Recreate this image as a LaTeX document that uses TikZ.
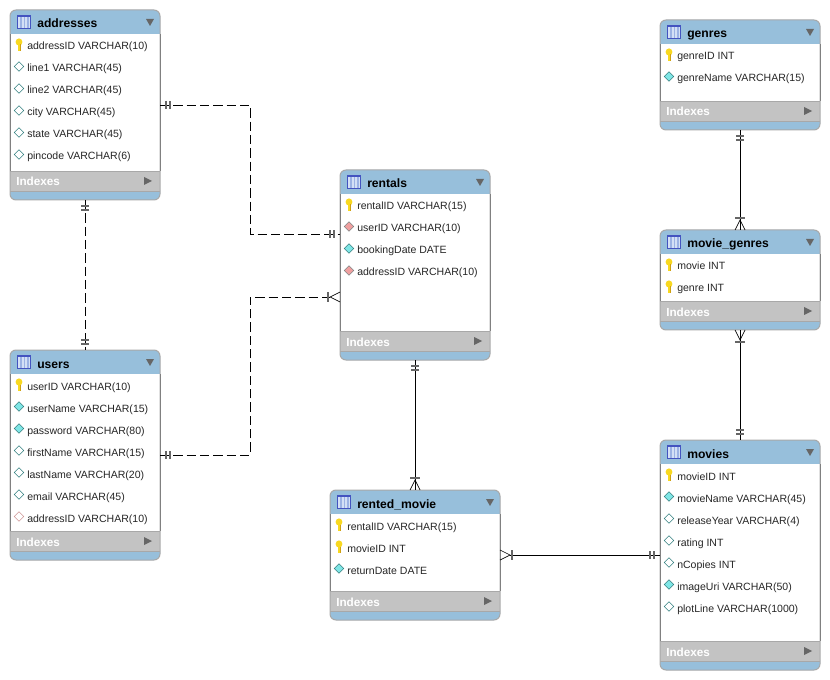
\documentclass[tikz,border=0pt]{standalone}
\usepackage{fontspec}
\setmainfont{Liberation Sans}
\usetikzlibrary{shapes.geometric}

\definecolor{headblue}{HTML}{97BFDB}
\definecolor{bandgray}{HTML}{C3C3C3}
\definecolor{edgegray}{HTML}{A8A8A8}
\definecolor{sidegray}{HTML}{808080}
\definecolor{markgray}{HTML}{666666}
\definecolor{keygold}{HTML}{F8D820}
\definecolor{keydark}{HTML}{D0A010}
\definecolor{reqcyan}{HTML}{7FE6E6}
\definecolor{fkpink}{HTML}{F0A0A0}
\definecolor{iconblue}{HTML}{4454C0}
\definecolor{iconpale}{HTML}{D4E0F6}
\definecolor{iconstripe}{HTML}{9CB2E4}

\tikzset{
  entity/.style={rectangle,fill=white,inner sep=0pt,outer sep=0pt},
  outline/.style={draw=edgegray,line width=0.75pt,rounded corners=4.5pt},
  titletext/.style={anchor=base west,inner sep=0pt,font=\fontsize{9.1}{11}\selectfont\bfseries},
  rowtext/.style={anchor=base west,inner sep=0pt,font=\fontsize{7.9}{10}\selectfont,text=black!85},
  indextext/.style={anchor=base west,inner sep=0pt,text=white,font=\fontsize{8.8}{11}\selectfont\bfseries},
  tableicon/.style={rectangle,draw=iconblue,fill=iconpale,line width=0.6pt,minimum size=10pt,inner sep=0pt,
    path picture={\foreach \s in {-3,0.5,4} \fill[iconstripe] (\s-0.6,-5) rectangle (\s+0.6,7);
      \fill[iconblue] (-9,-9) rectangle (9,-5);}},
  icondiamond/.style={diamond,draw,line width=0.4pt,minimum size=7.2pt,inner sep=0pt},
  iconopen/.style={icondiamond,draw=teal!60!gray,fill=white},
  iconreq/.style={icondiamond,draw=teal!60!gray,fill=reqcyan},
  iconfk/.style={icondiamond,draw=gray,fill=fkpink},
  iconfkopen/.style={icondiamond,draw=fkpink!70!gray,fill=white},
  iconkey/.style={rectangle,minimum width=5.4pt,minimum height=9.5pt,inner sep=0pt,
    path picture={\fill[keygold] (0,-2.5) ellipse (3.4 and 3.6);
      \fill[keygold] (-1.3,-2) rectangle (1.2,7);
      \fill[keydark] (1.2,0) rectangle (2.4,7);}},
  rel/.style={draw=black,line width=0.65pt},
  reldash/.style={rel,dash pattern=on 7pt off 3pt},
  markbar/.style={draw=markgray,line width=0.95pt},
  markfoot/.style={draw=black,line width=0.5pt},
}

% name, x, y, width, height, title, rows
\newcommand{\entitybox}[7]{
  \node[entity,minimum width=#4*0.75pt,minimum height=#5*0.75pt] (#1) at (#2+#4/2,#3+#5/2) {};
  \begin{scope}[shift={(#2,#3)}]
    \fill[headblue,rounded corners=4.5pt] (0,0) rectangle (#4,24+8);
    \fill[white] (0,24) rectangle (#4,24+10);
    \fill[headblue,rounded corners=4.5pt] (0,#5-16) rectangle (#4,#5);
    \fill[bandgray] (0,#5-29) rectangle (#4,#5-9);
    \draw[edgegray,line width=0.6pt] (0,#5-29) -- (#4,#5-29);
    \draw[edgegray,line width=0.6pt] (0,#5-9) -- (#4,#5-9);
    \draw[outline] (0,0) rectangle (#4,#5);
    \draw[sidegray,line width=0.65pt] (0,24) -- (0,#5-29);
    \draw[sidegray,line width=0.65pt] (#4,24) -- (#4,#5-29);
    \node[tableicon] (#1-icon) at (14,12) {};
    \node[titletext] (#1-title) at (27,18) {#6};
    \fill[markgray] (#4-14,9) -- (#4-6,9) -- (#4-10,16) -- cycle;
    \foreach \kind/\txt [count=\i] in {#7} {
      \node[icon\kind] (#1-mark\i) at (9,12.5+22*\i) {};
      \node[rowtext] (#1-row\i) at (17,18+22*\i) {\txt};
    }
    \node[indextext] (#1-indexes) at (6,#5-14) {Indexes};
    \fill[markgray] (#4-16,#5-23) -- (#4-8,#5-19) -- (#4-16,#5-15) -- cycle;
  \end{scope}
}
% double bar at the "one" end
\newcommand{\relone}[2]{
  \begin{scope}[shift={(#1)},rotate=#2]
    \draw[markbar] (6,-4) -- (6,4);
    \draw[markbar] (10,-4) -- (10,4);
  \end{scope}
}
% bar and crow's foot at the "many" end
\newcommand{\relmany}[2]{
  \begin{scope}[shift={(#1)},rotate=#2]
    \draw[markfoot] (0,-5) -- (10,0) -- (0,5);
    \draw[markbar] (12,-5) -- (12,5);
  \end{scope}
}

\begin{document}
\begin{tikzpicture}[x=0.75pt,y=-0.75pt]
  \useasboundingbox (0,0) rectangle (830,680);

  % Left column
  \entitybox{addresses}{10}{10}{150}{190}{addresses}{key/addressID VARCHAR(10),open/line1 VARCHAR(45),open/line2 VARCHAR(45),open/city VARCHAR(45),open/state VARCHAR(45),open/pincode VARCHAR(6)}
  \entitybox{users}{10}{350}{150}{210}{users}{key/userID VARCHAR(10),req/userName VARCHAR(15),req/password VARCHAR(80),open/firstName VARCHAR(15),open/lastName VARCHAR(20),open/email VARCHAR(45),fkopen/addressID VARCHAR(10)}

  % Middle column
  \entitybox{rentals}{340}{170}{150}{190}{rentals}{key/rentalID VARCHAR(15),fk/userID VARCHAR(10),req/bookingDate DATE,fk/addressID VARCHAR(10)}
  \entitybox{rented}{330}{490}{170}{130}{rented\_movie}{key/rentalID VARCHAR(15),key/movieID INT,req/returnDate DATE}

  % Right column
  \entitybox{genres}{660}{20}{160}{110}{genres}{key/genreID INT,req/genreName VARCHAR(15)}
  \entitybox{moviegenres}{660}{230}{160}{100}{movie\_genres}{key/movie INT,key/genre INT}
  \entitybox{movies}{660}{440}{160}{230}{movies}{key/movieID INT,req/movieName VARCHAR(45),open/releaseYear VARCHAR(4),open/rating INT,open/nCopies INT,req/imageUri VARCHAR(50),open/plotLine VARCHAR(1000)}

  % Edges
  \draw[reldash] (addresses.south) -- (users.north);
  \draw[reldash] (addresses.east) -| (250,234) -- (rentals.west |- 0,234);
  \draw[reldash] (users.east) -| (250,297) -- ([xshift=-7.5pt]rentals.west |- 0,297);
  \draw[rel] (rentals.south) -- (rented.north);
  \draw[rel] ([xshift=7.5pt]rented.east) -- (movies.west);
  \draw[rel] (genres.south) -- (moviegenres.north);
  \draw[rel] (moviegenres.south) -- (movies.north);

  % Ends
  \relone{addresses.south}{270}
  \relone{users.north}{90}
  \relone{addresses.east}{0}
  \relone{rentals.west |- 0,234}{180}
  \relone{users.east}{0}
  \relmany{rentals.west |- 0,297}{180}
  \relone{rentals.south}{270}
  \relmany{rented.north}{90}
  \relmany{rented.east}{0}
  \relone{movies.west}{180}
  \relone{genres.south}{270}
  \relmany{moviegenres.north}{90}
  \relmany{moviegenres.south}{270}
  \relone{movies.north}{90}
\end{tikzpicture}
\end{document}
